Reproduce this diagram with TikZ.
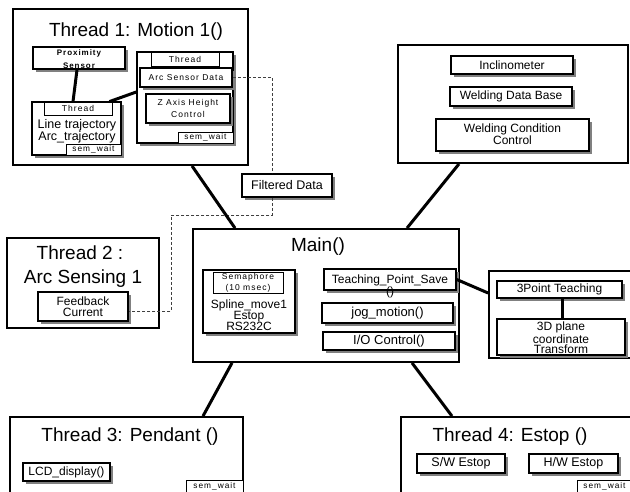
\documentclass[tikz,border=0pt]{standalone}
\usepackage{fontspec}
\setmainfont{Liberation Sans}
\newfontfamily\spaced[LetterSpace=12]{Liberation Sans}
\usetikzlibrary{shadows}
\tikzset{
  sz/.style 2 args={minimum width=#1pt, minimum height=#2pt},
  outer/.style={draw, line width=1.8pt, inner sep=0pt},
  ibox/.style={draw, fill=white, line width=1.5pt, inner sep=0pt, align=center,
    drop shadow={shadow xshift=3pt, shadow yshift=-3pt, fill=black!50, opacity=1}},
  lbl/.style={draw, fill=white, line width=0.8pt, inner sep=0pt, align=center},
  conn/.style={line width=3pt},
  dline/.style={line width=1pt, black!75, dash pattern=on 3pt off 2pt},
  ttl/.style={inner sep=0pt, font=\fontsize{19}{21}\selectfont},
  txt/.style={inner sep=0pt, align=center, font=\fontsize{12}{11}\selectfont},
  sm/.style={font=\spaced\fontsize{8.5}{11}\selectfont},
  tiny/.style={font=\spaced\fontsize{8.3}{9}\selectfont},
}
\begin{document}
\begin{tikzpicture}[x=1pt, y=-1pt]
\useasboundingbox (0,0) rectangle (630,491);
\clip (0,0) rectangle (630,491);
% ---------- outer boxes ----------
\node[outer, sz={235}{156}] (t1) at (130.5,87) {};
\node[outer, sz={152}{90}] (t2) at (83,283) {};
\node[outer, sz={266}{133}] (mainb) at (326,295.5) {};
\node[outer, sz={230}{118}] (weld) at (513,104) {};
\node[outer, sz={156}{87}] (tp) at (567,314.5) {};
\node[outer, sz={233}{88}] (t3) at (126.5,461) {};
\node[outer, sz={244}{88}] (t4) at (523,461) {};
% ---------- titles ----------
\node[ttl] (t1t) at (136,32) {Thread 1: Motion 1()};
\node[ttl] (t2a) at (80,253) {Thread 2 :};
\node[ttl] (t2b) at (83,279) {Arc Sensing 1};
\node[ttl] (maint) at (318,247) {Main()};
\node[ttl] (t3t) at (130,437) {Thread 3: Pendant ()};
\node[ttl] (t4t) at (510,437) {Thread 4: Estop ()};
% ---------- thread 1 content ----------
\node[ibox, sz={92}{22}] (prox) at (79,58) {};
\node[inner sep=0pt, align=center, font=\spaced\bfseries\fontsize{8}{13}\selectfont] (proxt) at (79,59) {Proximity\\Sensor};
\node[ibox, sz={89}{53}] (lth) at (76.5,128.5) {};
\node[lbl, sz={68}{13}, sm] (lthl) at (78,108.5) {Thread};
\node[txt, font=\fontsize{12.5}{12}\selectfont] (ltht) at (77,131) {Line trajectory\\Arc\_trajectory};
\node[lbl, sz={55}{11}, tiny] (lsw) at (93.5,149.5) {sem\_wait};
\node[ibox, sz={96}{91}] (rth) at (185,97.5) {};
\node[lbl, sz={68}{14}, sm] (rthl) at (185,59) {Thread};
\node[ibox, sz={92}{19}, sm] (asd) at (186,77.5) {Arc Sensor Data};
\node[ibox, sz={84}{29}, font=\spaced\fontsize{8.5}{12}\selectfont] (zah) at (188,108.5) {Z Axis Height\\Control};
\node[lbl, sz={55}{11}, tiny] (rsw) at (205.5,137.5) {sem\_wait};
\draw[conn] ([xshift=-2pt]prox.south) -- ([xshift=-5pt]lthl.north);
\draw[conn] ([yshift=5.5pt]rth.west) -- ([xshift=-3pt]lthl.north east);
% ---------- filtered data / feedback ----------
\node[ibox, sz={90}{23}, font=\fontsize{12.5}{12}\selectfont] (fd) at (287,185.5) {Filtered Data};
\node[ibox, sz={90}{29}, font=\fontsize{12}{11}\selectfont] (fb) at (83,306.5) {Feedback\\Current};
\coordinate (dj1) at (171,215);
\coordinate (dj2) at (171,311);
\draw[dline] (asd.east) -| ([xshift=-15pt]fd.north);
\draw[dline] ([xshift=-15pt]fd.south) |- (dj1) -- (dj2) -- ([yshift=-4.5pt]fb.east);
% ---------- main content ----------
\node[ibox, sz={92}{63}] (sem) at (249,301.5) {};
\node[lbl, sz={70}{21}, font=\spaced\fontsize{8.5}{11}\selectfont] (seml) at (248,282.5) {Semaphore\\(10 msec)};
\node[txt] (semt) at (249,315.5) {Spline\_move1\\Estop\\RS232C};
\node[ibox, sz={132}{21}] (tps) at (390,279.5) {};
\node[txt] (tpst) at (390,286) {Teaching\_Point\_Save\\()};
\node[ibox, sz={131}{20}, font=\fontsize{13}{12}\selectfont] (jog) at (387.5,313) {jog\_motion()};
\node[ibox, sz={132}{18}, font=\fontsize{13}{12}\selectfont] (io) at (389,341) {I/O Control()};
% ---------- welding box ----------
\node[ibox, sz={122}{18}, font=\fontsize{12}{11}\selectfont] (incl) at (512,65) {Inclinometer};
\node[ibox, sz={122}{19}, font=\fontsize{12}{11}\selectfont] (wdb) at (511,96.5) {Welding Data Base};
\node[ibox, sz={153}{32}] (wcc) at (512.5,135) {};
\node[txt, font=\fontsize{12}{10.5}\selectfont] (wcct) at (512.5,134) {Welding Condition\\Control};
% ---------- 3 point teaching ----------
\node[ibox, sz={125}{17}, font=\fontsize{12}{11}\selectfont] (pt3) at (559.5,289.5) {3Point Teaching};
\node[ibox, sz={128}{36}] (p3d) at (561,337) {};
\node[txt, font=\fontsize{12}{10.5}\selectfont] (p3dt) at (561,338) {3D plane\\coordinate\\Transform};
\draw[conn] ([xshift=2.5pt]pt3.south) -- ([xshift=1pt]p3d.north);
% ---------- thread 3 / 4 ----------
\node[ibox, sz={87}{18}, font=\fontsize{12}{11}\selectfont] (lcd) at (66.5,472) {LCD\_display()};
\node[lbl, sz={57}{13}, tiny] (t3sw) at (214.5,486.5) {sem\_wait};
\node[ibox, sz={88}{19}, font=\fontsize{12.5}{11}\selectfont] (swe) at (461,463.5) {S/W Estop};
\node[ibox, sz={89}{19}, font=\fontsize{12.5}{11}\selectfont] (hwe) at (573.5,463.5) {H/W Estop};
\node[lbl, sz={55}{13}, tiny] (t4sw) at (604.5,486.5) {sem\_wait};
% ---------- connectors ----------
\draw[conn] ([xshift=61.5pt]t1.south) -- ([xshift=-91pt]mainb.north);
\draw[conn] ([xshift=-54pt]weld.south) -- ([xshift=81pt]mainb.north);
\draw[conn] ([xshift=-94pt]mainb.south) -- ([xshift=76.5pt]t3.north);
\draw[conn] ([xshift=86pt]mainb.south) -- ([xshift=-71pt]t4.north);
\draw[conn] (tps.east) -- ([yshift=21.5pt]tp.west);
\end{tikzpicture}
\end{document}
